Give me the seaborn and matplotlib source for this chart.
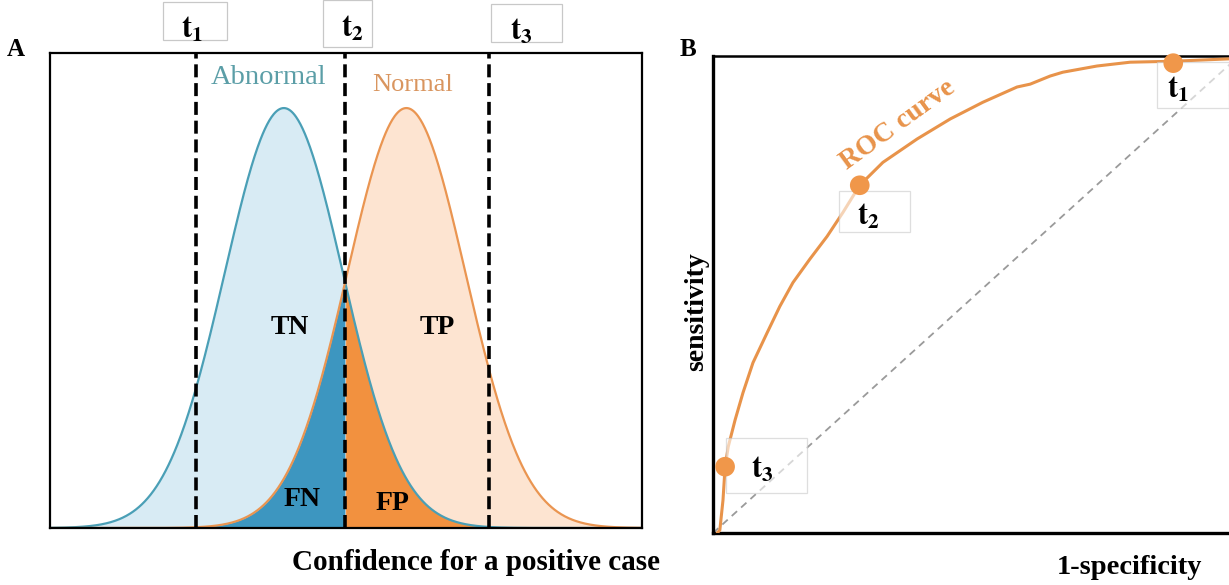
import numpy as np
import pandas as pd
import matplotlib
matplotlib.use("Agg")
import matplotlib.pyplot as plt
import seaborn as sns
from matplotlib.patches import Rectangle

# ---------------- data ----------------
conf_range = [0.0, 10.0]
abnormal_mean, abnormal_sd = 3.95, 1.0
normal_mean, normal_sd = 6.02, 1.0
thresholds = [2.47, 4.985, 7.42]
threshold_labels = [r"$\mathbf{t}_{\mathbf{1}}$", r"$\mathbf{t}_{\mathbf{2}}$", r"$\mathbf{t}_{\mathbf{3}}$"]

roc_fpr = [0.008, 0.013, 0.019, 0.023, 0.029, 0.042, 0.057, 0.076, 0.103, 0.127, 0.152, 0.184,
           0.217, 0.247, 0.279, 0.323, 0.388, 0.451, 0.513, 0.578, 0.603, 0.641, 0.665, 0.730,
           0.793, 0.875, 0.981]
roc_tpr = [0.000, 0.006, 0.069, 0.139, 0.181, 0.237, 0.294, 0.357, 0.420, 0.475, 0.525, 0.574,
           0.622, 0.672, 0.729, 0.777, 0.826, 0.868, 0.903, 0.935, 0.941, 0.958, 0.966, 0.979,
           0.987, 0.989, 0.994]
point_fpr = [0.875, 0.279, 0.023]
point_tpr = [0.985, 0.729, 0.139]
point_labels = threshold_labels

# ---------------- style ----------------
sns.set_theme(style="white")
plt.rcParams["font.family"] = ["Liberation Serif", "DejaVu Serif"]
plt.rcParams["mathtext.fontset"] = "stix"
plt.rcParams["text.color"] = "black"

W, H = 1229, 585
fig = plt.figure(figsize=(W / 100, H / 100), dpi=100)


def fx(px):
    return px / W


def fy(py):
    return 1 - py / H


def box(x0, y0, x1, y1, alpha=1.0, ax=None, z=5):
    r = Rectangle((fx(x0), fy(y1)), fx(x1) - fx(x0), fy(y0) - fy(y1),
                  transform=fig.transFigure, facecolor="white", edgecolor="#c8c8c8",
                  lw=0.9, alpha=alpha, zorder=z, clip_on=False)
    if ax is None:
        fig.patches.append(r)
    else:
        ax.add_patch(r)


# ---------------- panel A ----------------
axA = fig.add_axes([fx(50), fy(528), fx(642) - fx(50), fy(53) - fy(528)])
x = np.linspace(conf_range[0], conf_range[1], 800)
abn = np.exp(-0.5 * ((x - abnormal_mean) / abnormal_sd) ** 2) / (abnormal_sd * np.sqrt(2 * np.pi))
nor = np.exp(-0.5 * ((x - normal_mean) / normal_sd) ** 2) / (normal_sd * np.sqrt(2 * np.pi))
df = pd.DataFrame({"x": np.concatenate([x, x]),
                   "density": np.concatenate([abn, nor]),
                   "group": ["Abnormal"] * len(x) + ["Normal"] * len(x)})

axA.fill_between(x, 0, abn, color="#d8ebf4", lw=0)
axA.fill_between(x, 0, nor, color="#fde4d1", lw=0)
overlap = np.minimum(abn, nor)
axA.fill_between(x, 0, overlap, where=x <= thresholds[1], color="#3d96c0", lw=0)
axA.fill_between(x, 0, overlap, where=x >= thresholds[1], color="#f2913f", lw=0)
sns.lineplot(data=df, x="x", y="density", hue="group",
             palette={"Abnormal": "#4a9fb6", "Normal": "#ea9551"},
             lw=1.6, legend=False, ax=axA, sort=False)
for t in thresholds:
    axA.axvline(t, color="black", lw=2.6, ls=(0, (3.6, 1.6)), zorder=4)
axA.set_xlim(conf_range)
axA.set_ylim(0, 0.399 * 475 / 420)
axA.set_xticks([])
axA.set_yticks([])
axA.set_xlabel("")
axA.set_ylabel("")
for s in axA.spines.values():
    s.set_color("black")
    s.set_linewidth(1.6)

# ---------------- panel B ----------------
axB = fig.add_axes([fx(713), fy(533), fx(1229) - fx(713), fy(56) - fy(533)])
roc_df = pd.DataFrame({"fpr": roc_fpr, "tpr": roc_tpr})
axB.plot([0, 1], [0, 1], color="#9a9a9a", lw=1.3, ls=(0, (4, 3)), zorder=2)
sns.lineplot(data=roc_df, x="fpr", y="tpr", sort=False, color="#e8934a", lw=2.2, ax=axB, zorder=3,
             solid_joinstyle="round", solid_capstyle="round")
# label boxes (semi-transparent, below the threshold dots)
box(1157, 62, 1229, 108, alpha=0.6, ax=axB, z=5)
box(839, 191, 910, 232, alpha=0.6, ax=axB, z=5)
box(726, 438, 807, 493, alpha=0.6, ax=axB, z=5)
pts = pd.DataFrame({"fpr": point_fpr, "tpr": point_tpr})
sns.scatterplot(data=pts, x="fpr", y="tpr", color="#f0974a", s=200, edgecolor="none",
                ax=axB, zorder=7, clip_on=False)
axB.set_xlim(0, 516 / 526)
axB.set_ylim(0, 1)
axB.set_xticks([])
axB.set_yticks([])
axB.set_xlabel("")
axB.set_ylabel("")
axB.spines["right"].set_visible(False)
for k in ["left", "bottom"]:
    axB.spines[k].set_linewidth(2.4)
    axB.spines[k].set_color("black")
axB.spines["top"].set_linewidth(1.8)
axB.spines["top"].set_color("black")

# ---------------- texts ----------------
serif = ["Liberation Serif", "DejaVu Serif"]
fig.text(fx(16), fy(50), "A", fontsize=18, fontweight="bold", ha="center", va="center", family=serif)
fig.text(fx(688), fy(50), "B", fontsize=18, fontweight="bold", ha="center", va="center", family=serif)

# threshold boxes panel A
box(163, 2, 227, 40)
box(323, 0, 372, 47)
box(491, 4, 562, 42)
for (px, py), lab in zip([(192, 30), (352, 29), (521, 32)], threshold_labels):
    fig.text(fx(px), fy(py), lab, fontsize=22, ha="center", va="center", zorder=6)

fig.text(fx(268), fy(78), "Abnormal", fontsize=20.5, color="#5b9ea7", ha="center", va="center", family=serif)
fig.text(fx(413), fy(85), "Normal", fontsize=19, color="#d9955f", ha="center", va="center", family=serif)
for (px, py), lab in zip([(290, 328), (437, 327), (302, 500), (392, 503)], ["TN", "TP", "FN", "FP"]):
    fig.text(fx(px), fy(py), lab, fontsize=20, fontweight="bold", color="black",
             ha="center", va="center", family=serif)

fig.text(fx(476), fy(563), "Confidence for a positive case", fontsize=21, fontweight="bold",
         ha="center", va="center", family=serif)
fig.text(fx(1129), fy(567), "1-specificity", fontsize=20.5, fontweight="bold",
         ha="center", va="center", family=serif)
fig.text(fx(697), fy(312), "sensitivity", fontsize=20, fontweight="bold", rotation=90,
         ha="center", va="center", family=serif)
fig.text(fx(898), fy(125), "ROC curve", fontsize=20, fontweight="bold", color="#e8934a",
         rotation=36, ha="center", va="center", family=serif)

for (px, py), lab in zip([(1178, 90), (868, 217), (762, 470)], point_labels):
    fig.text(fx(px), fy(py), lab, fontsize=22, ha="center", va="center", zorder=6)

fig.savefig("out.png", dpi=100)
